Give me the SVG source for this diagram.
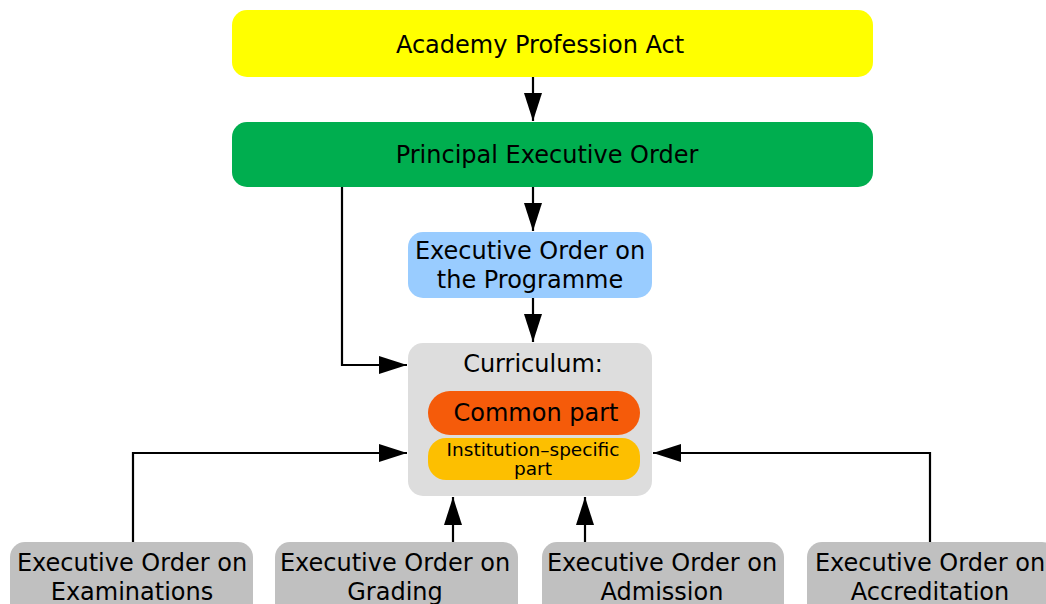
<svg xmlns="http://www.w3.org/2000/svg" width="1046" height="604" viewBox="0 0 1046 604">
<style>
text{font-family:"DejaVu Sans","Liberation Sans",sans-serif;fill:#000;text-anchor:middle}
.t{font-size:24px}
.s{font-size:18.5px}
.gray{fill:#c0c0c0}
.c{fill:none;stroke:#000;stroke-width:2.2}
</style>
<defs>
<marker id="ah" viewBox="0 0 28 18" refX="28" refY="9" markerWidth="28" markerHeight="18" markerUnits="userSpaceOnUse" orient="auto">
<path d="M0,0 L28,9 L0,18 Z" fill="#000"/>
</marker>
</defs>
<rect width="1046" height="604" fill="#fff"/>
<g id="connectors">
<path class="c" d="M533,77 V121" marker-end="url(#ah)"/>
<path class="c" d="M533,187 V231" marker-end="url(#ah)"/>
<path class="c" d="M533,298 V342" marker-end="url(#ah)"/>
<path class="c" d="M342,187 V365 H407" marker-end="url(#ah)"/>
<path class="c" d="M133,542 V453 H407" marker-end="url(#ah)"/>
<path class="c" d="M930,542 V453 H653" marker-end="url(#ah)"/>
<path class="c" d="M453,542 V497" marker-end="url(#ah)"/>
<path class="c" d="M585,542 V497" marker-end="url(#ah)"/>
</g>
<g id="act">
<rect x="232" y="10" width="641" height="67" rx="15" fill="#ffff00"/>
<text class="t" x="540" y="53">Academy Profession Act</text>
</g>
<g id="principal">
<rect x="232" y="122" width="641" height="65" rx="15" fill="#00ae4f"/>
<text class="t" x="547" y="163">Principal Executive Order</text>
</g>
<g id="programme">
<rect x="408" y="232" width="244" height="66" rx="15" fill="#99ccff"/>
<text class="t" x="530" y="259">Executive Order on</text>
<text class="t" x="530" y="288">the Programme</text>
</g>
<g id="curriculum">
<rect x="408" y="343" width="244" height="153" rx="15" fill="#dddddd"/>
<text class="t" x="533" y="372">Curriculum:</text>
</g>
<g id="common">
<rect x="428" y="391" width="212" height="44" rx="22" fill="#f55b0a"/>
<text x="536" y="421" style="font-size:24px">Common part</text>
</g>
<g id="institution">
<rect x="428" y="438" width="212" height="42" rx="18" fill="#fdbf00"/>
<text class="s" x="533" y="456">Institution–specific</text>
<text class="s" x="533" y="475">part</text>
</g>
<g id="examinations">
<rect class="gray" x="10" y="542" width="243" height="80" rx="15"/>
<text class="t" x="132" y="571">Executive Order on</text>
<text class="t" x="132" y="600">Examinations</text>
</g>
<g id="grading">
<rect class="gray" x="275" y="542" width="243" height="80" rx="15"/>
<text class="t" x="395" y="571">Executive Order on</text>
<text class="t" x="395" y="600">Grading</text>
</g>
<g id="admission">
<rect class="gray" x="542" y="542" width="242" height="80" rx="15"/>
<text class="t" x="662" y="571">Executive Order on</text>
<text class="t" x="662" y="600">Admission</text>
</g>
<g id="accreditation">
<rect class="gray" x="807" y="542" width="250" height="80" rx="15"/>
<text class="t" x="930" y="571">Executive Order on</text>
<text class="t" x="930" y="600">Accreditation</text>
</g>
</svg>
